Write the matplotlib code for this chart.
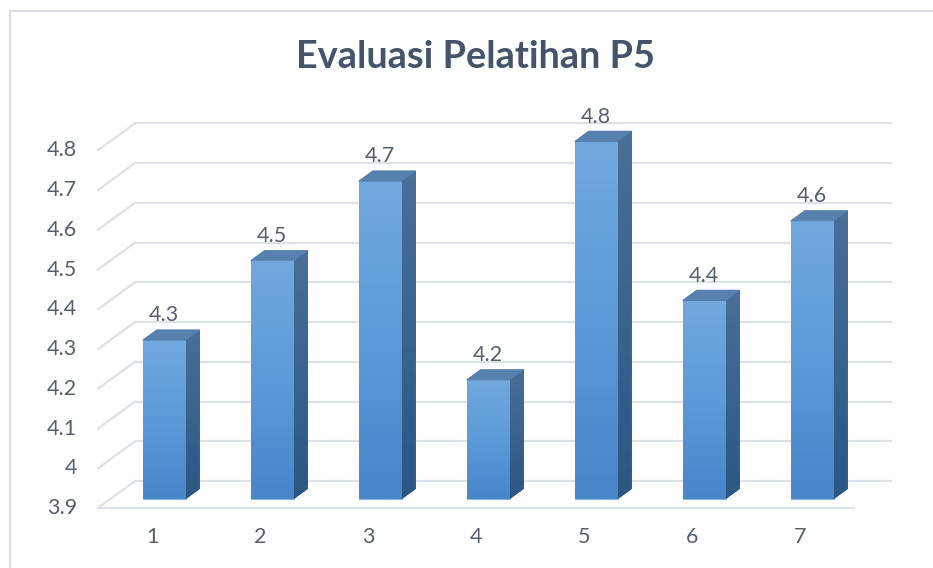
import numpy as np
import matplotlib
matplotlib.use("Agg")
import matplotlib.pyplot as plt
from matplotlib.patches import Polygon
from matplotlib.lines import Line2D
from matplotlib.colors import LinearSegmentedColormap

# ---- data ----
categories = ["1", "2", "3", "4", "5", "6", "7"]
values = [4.3, 4.5, 4.7, 4.2, 4.8, 4.4, 4.6]
y_ticks = [3.9, 4.0, 4.1, 4.2, 4.3, 4.4, 4.5, 4.6, 4.7, 4.8]
y_tick_labels = ["3.9", "4", "4.1", "4.2", "4.3", "4.4", "4.5", "4.6", "4.7", "4.8"]
title = "Evaluasi Pelatihan P5"

plt.rcParams['font.family'] = ['Lato', 'DejaVu Sans']

fig = plt.figure(figsize=(9.33, 5.68), dpi=100)
ax = fig.add_axes([0, 0, 1, 1])
ax.set_xlim(-0.4074, 8.2315)
ax.set_ylim(3.7491, 5.1780)
ax.axis('off')

base = y_ticks[0]
DX, DY = 0.3426, 0.0679     # full depth of the 3D box (data units)
d1, d2 = 0.33, 0.71         # bar front/back depth fractions
bw = 0.4
grid_c = '#dde1e8'
text_c = '#55606f'
n = len(categories)
xs = np.arange(1, n + 1)
x0, x1 = xs[0] - 0.5, xs[-1] + 0.5

# gridlines: diagonal + back wall
for t in y_ticks:
    ax.add_line(Line2D([x0, x0 + DX], [t, t + DY], color=grid_c, lw=1.6, zorder=1))
    ax.add_line(Line2D([x0 + DX, x1 + DX], [t + DY, t + DY], color=grid_c, lw=1.6, zorder=1))
ax.add_line(Line2D([x0, x1], [base, base], color=grid_c, lw=1.6, zorder=1))

front_cmap = LinearSegmentedColormap.from_list('f', ['#4686c9', '#5b9bd9', '#72a8de'])
side_cmap = LinearSegmentedColormap.from_list('s', ['#2b5783', '#4a6f98'])
grad = np.linspace(0, 1, 256).reshape(-1, 1)

for x, v in zip(xs, values):
    xc = x + d1 * DX
    yb = base + d1 * DY
    yt = v + d1 * DY
    ddx, ddy = (d2 - d1) * DX, (d2 - d1) * DY
    xl, xr = xc - bw / 2, xc + bw / 2
    bars = ax.bar([xc], [v - base], bottom=yb, width=bw, color='#5b9bd5',
                  edgecolor='#7fb0e0', lw=0.6, zorder=3)
    rect = bars[0]
    im = ax.imshow(grad, extent=(xl, xr, yb, yt), origin='lower', cmap=front_cmap,
                   aspect='auto', zorder=3.1, interpolation='bilinear')
    im.set_clip_path(rect)
    side = Polygon([(xr, yb), (xr, yt), (xr + ddx, yt + ddy), (xr + ddx, yb + ddy)],
                   closed=True, facecolor='#3a6591', edgecolor='none', zorder=3)
    ax.add_patch(side)
    im2 = ax.imshow(grad, extent=(xr, xr + ddx, yb, yt + ddy), origin='lower', cmap=side_cmap,
                    aspect='auto', zorder=3.1, interpolation='bilinear')
    im2.set_clip_path(side)
    top = Polygon([(xl, yt), (xr, yt), (xr + ddx, yt + ddy), (xl + ddx, yt + ddy)],
                  closed=True, facecolor='#5680ae', edgecolor='#4e77a4', lw=0.5, zorder=3.2)
    ax.add_patch(top)
    ax.text(xc, yt + 0.062, f"{v:g}", ha='center', va='center', fontsize=15.5,
            color=text_c, zorder=4)

ax.set_xlim(-0.4074, 8.2315)
ax.set_ylim(3.7491, 5.1780)

# y tick labels
for t, lab in zip(y_ticks, y_tick_labels):
    ax.text(0.3056, t, lab, ha='right', va='center', fontsize=15.5, color=text_c)
# category labels
for x, lab in zip(xs, categories):
    ax.text(x, base - 0.073, lab, ha='center', va='center', fontsize=15.5, color=text_c)

fig.text(0.510, 0.899, title, ha='center', va='center', fontsize=27.3,
         fontweight='bold', color='#44546a')

# chart area border (top and left visible)
fig.add_artist(Line2D([0.0107, 1.0], [0.9806, 0.9806], transform=fig.transFigure,
                      color='#d9dde4', lw=1.5))
fig.add_artist(Line2D([0.0107, 0.0107], [0.0, 0.9806], transform=fig.transFigure,
                      color='#d9dde4', lw=1.5))

fig.savefig('out.png', dpi=100, facecolor='white')
